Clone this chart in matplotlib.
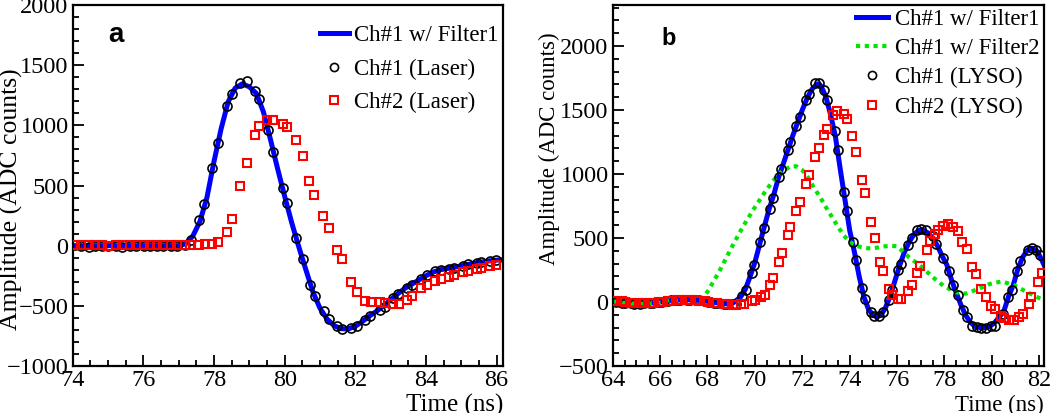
import matplotlib
matplotlib.use("Agg")
import matplotlib.pyplot as plt
from matplotlib.ticker import MultipleLocator

plt.rcParams['font.family'] = ['Liberation Serif', 'DejaVu Serif']
plt.rcParams['axes.unicode_minus'] = True

# ---------------- Panel a data ----------------
a_filter1_t = [74.0, 76.5, 77.0, 77.2, 77.4, 77.6, 77.8, 78.0, 78.2, 78.4, 78.6, 78.8, 79.0, 79.2,
               79.4, 79.6, 79.8, 80.0, 80.2, 80.4, 80.6, 80.8, 81.0, 81.2, 81.4, 81.6, 81.8,
               82.0, 82.2, 82.4, 82.6, 82.8, 83.0, 83.2, 83.4, 83.6, 83.8, 84.0, 84.2, 84.4,
               84.6, 84.8, 85.0, 85.2, 85.4, 85.6, 85.8, 86.0, 86.2]
a_filter1_v = [0, 0, 0, 15, 80, 200, 400, 700, 970, 1195, 1310, 1345, 1320, 1265,
               1110, 880, 640, 410, 190, -10, -200, -385, -520, -610, -665, -690, -692,
               -670, -630, -585, -545, -500, -450, -400, -355, -320, -285, -250, -220, -200,
               -190, -180, -168, -155, -143, -135, -126, -120, -116]

a_ch1_t = [74.06, 74.23, 74.45, 74.62, 74.84, 75.01, 75.23, 75.40, 75.62, 75.79, 76.01, 76.18,
           76.40, 76.57, 76.79, 76.96, 77.18, 77.35, 77.58, 77.73, 77.95, 78.12, 78.36, 78.51,
           78.74, 78.94, 79.16, 79.28, 79.54, 79.68, 79.94, 80.06, 80.31, 80.51, 80.72, 80.86,
           81.10, 81.26, 81.48, 81.61, 81.89, 82.04, 82.26, 82.42, 82.69, 82.83, 83.07, 83.22,
           83.45, 83.60, 83.85, 84.02, 84.26, 84.42, 84.65, 84.78, 85.05, 85.19, 85.43, 85.57,
           85.82, 85.97]
a_ch1_v = [2, -5, -8, -6, -3, 0, -2, -10, -4, 0, -5, -3,
           0, -2, -6, -3, 5, 50, 211, 349, 646, 854, 1160, 1262,
           1354, 1371, 1286, 1217, 962, 779, 482, 358, 67, -112, -327, -418,
           -545, -607, -671, -690, -688, -666, -616, -585, -538, -508, -434, -401,
           -354, -324, -275, -244, -212, -201, -191, -186, -167, -153, -140, -136,
           -125, -122]

a_ch2_t = [74.06, 74.23, 74.45, 74.62, 74.84, 75.01, 75.23, 75.40, 75.62, 75.79, 76.01, 76.18,
           76.40, 76.57, 76.79, 76.96, 77.18, 77.32, 77.58, 77.74, 77.95, 78.12, 78.36, 78.50,
           78.74, 78.93, 79.15, 79.28, 79.51, 79.68, 79.95, 80.06, 80.31, 80.51, 80.70, 80.84,
           81.09, 81.25, 81.48, 81.62, 81.89, 82.04, 82.26, 82.43, 82.70, 82.83, 83.07, 83.24,
           83.45, 83.60, 83.85, 84.02, 84.26, 84.42, 84.65, 84.78, 85.05, 85.19, 85.43, 85.57,
           85.82, 85.97]
a_ch2_v = [5, 3, 6, 4, 2, 0, 4, 6, 3, 2, 5, 4,
           3, 6, 5, 4, 6, 3, 8, 11, 17, 30, 116, 218,
           495, 687, 923, 995, 1046, 1045, 1015, 987, 876, 741, 535, 418,
           246, 146, -36, -108, -305, -386, -460, -472, -472, -473, -482, -482,
           -449, -419, -351, -323, -295, -280, -262, -240, -215, -210, -190, -188,
           -170, -160]

# ---------------- Panel b data ----------------
b_filter1_t = [64.0, 64.5, 65.0, 65.5, 66.0, 66.5, 67.0, 67.5, 68.0, 68.5, 69.0, 69.2, 69.4,
               69.6, 69.8, 70.0, 70.2, 70.4, 70.6, 70.8, 71.0, 71.2, 71.4, 71.6, 71.8, 72.0,
               72.2, 72.4, 72.6, 72.7, 72.8, 73.0, 73.2, 73.4, 73.6, 73.8, 74.0, 74.2, 74.4,
               74.6, 74.8, 75.0, 75.15, 75.3, 75.5, 75.7, 75.9, 76.1, 76.3, 76.5, 76.7, 76.9,
               77.1, 77.3, 77.5, 77.7, 77.9, 78.1, 78.3, 78.5, 78.7, 78.9, 79.1, 79.3, 79.5,
               79.7, 79.9, 80.1, 80.3, 80.5, 80.7, 80.9, 81.1, 81.3, 81.5, 81.7, 81.9, 82.1,
               82.2]
b_filter1_v = [5, -5, -12, -10, 0, 12, 18, 15, 5, -8, -18, 10, 40,
               100, 200, 310, 450, 590, 725, 840, 975, 1080, 1190, 1300, 1400, 1500,
               1590, 1660, 1700, 1705, 1685, 1600, 1460, 1290, 1040, 800, 560, 390, 200,
               40, -60, -105, -115, -105, -50, 40, 160, 280, 385, 465, 525, 558,
               560, 540, 500, 440, 360, 290, 170, 70, -25, -105, -160, -192, -200,
               -200, -192, -165, -120, -75, 40, 130, 260, 350, 405, 420, 400, 330,
               290]

b_filter2_t = [64.0, 64.5, 65.0, 65.5, 66.0, 66.5, 67.0, 67.5, 67.8, 68.0, 68.5, 69.0, 69.5,
               70.0, 70.5, 71.0, 71.5, 71.75, 72.0, 72.25, 72.5, 72.75, 73.0, 73.25, 73.5,
               73.75, 74.0, 74.25, 74.5, 74.75, 75.0, 75.5, 75.75, 76.0, 76.15, 76.5, 77.0,
               77.5, 78.0, 78.5, 78.9, 79.4, 79.9, 80.4, 80.9, 81.4, 81.9, 82.2]
b_filter2_v = [5, -5, -12, -10, 0, 12, 18, 15, 30, 80, 240, 420, 590,
               740, 880, 1000, 1060, 1060, 1030, 970, 890, 820, 740, 665, 590,
               520, 470, 440, 428, 420, 420, 435, 440, 435, 410, 350, 280,
               195, 120, 75, 65, 100, 140, 160, 135, 85, 40, 10]

b_ch1_t = [64.00, 64.13, 64.39, 64.52, 64.78, 64.91, 65.17, 65.30, 65.56, 65.69, 65.95, 66.08,
           66.34, 66.47, 66.73, 66.86, 67.12, 67.25, 67.51, 67.64, 67.90, 68.03, 68.29, 68.42,
           68.68, 68.81, 69.07, 69.20, 69.44, 69.61, 69.86, 69.96, 70.22, 70.37, 70.62, 70.75,
           71.00, 71.12, 71.39, 71.50, 71.75, 71.89, 72.16, 72.30, 72.55, 72.72, 72.91, 73.05,
           73.36, 73.49, 73.75, 73.89, 74.13, 74.27, 74.50, 74.63, 74.88, 75.02, 75.23, 75.40,
           75.66, 75.77, 76.05, 76.15, 76.46, 76.64, 76.83, 77.02, 77.21, 77.52, 77.66, 77.95,
           78.19, 78.36, 78.55, 78.80, 78.93, 79.18, 79.36, 79.56, 79.74, 79.95, 80.12, 80.45,
           80.69, 80.83, 81.05, 81.20, 81.53, 81.69, 81.86, 82.05]
b_ch1_v = [5, 2, -4, -6, -10, -12, -12, -11, -8, -5, 0, 3,
           10, 12, 16, 18, 18, 17, 15, 12, 6, 3, -4, -7,
           -13, -16, -18, -12, 49, 96, 227, 286, 466, 578, 724, 812,
           977, 1042, 1185, 1250, 1375, 1445, 1581, 1628, 1711, 1711, 1659, 1581,
           1336, 1185, 859, 708, 469, 331, 107, 26, -78, -112, -112, -78,
           18, 91, 247, 300, 448, 500, 560, 568, 560, 513, 456, 346,
           245, 130, 52, -65, -117, -188, -195, -200, -200, -188, -188, -91,
           39, 91, 240, 320, 409, 424, 409, 370]

b_ch2_t = [64.00, 64.13, 64.39, 64.52, 64.78, 64.91, 65.17, 65.30, 65.56, 65.69, 65.95, 66.08,
           66.34, 66.47, 66.73, 66.86, 67.12, 67.25, 67.51, 67.64, 67.90, 68.03, 68.29, 68.42,
           68.68, 68.81, 69.07, 69.20, 69.40, 69.54, 69.89, 70.02, 70.24, 70.43, 70.62, 70.75,
           71.00, 71.15, 71.40, 71.50, 71.75, 71.89, 72.16, 72.30, 72.55, 72.70, 72.91, 73.05,
           73.30, 73.47, 73.75, 73.89, 74.11, 74.27, 74.53, 74.64, 74.88, 75.05, 75.30, 75.42,
           75.66, 75.80, 76.05, 76.18, 76.45, 76.61, 76.85, 76.97, 77.25, 77.39, 77.60, 77.74,
           77.95, 78.16, 78.36, 78.55, 78.76, 78.93, 79.18, 79.32, 79.56, 79.74, 79.98, 80.12,
           80.38, 80.52, 80.73, 80.94, 81.15, 81.32, 81.55, 81.65, 81.93, 82.10]
b_ch2_v = [10, 8, 4, 2, -4, -6, -10, -11, -8, -6, 0, 3,
           8, 10, 13, 15, 15, 14, 12, 10, 5, 2, -5, -8,
           -15, -18, -20, -20, -18, -13, 8, 15, 36, 57, 134, 185,
           313, 385, 526, 586, 708, 781, 924, 990, 1133, 1203, 1302, 1354,
           1464, 1490, 1471, 1432, 1294, 1172, 956, 854, 625, 500, 313, 240,
           104, 52, 26, 26, 88, 130, 229, 279, 409, 477, 534, 560,
           591, 607, 586, 552, 469, 411, 273, 216, 104, 39, -31, -57,
           -109, -125, -143, -143, -117, -91, -13, 39, 156, 229]

BLUE = '#0000ff'
RED = '#ff0000'
GREEN = '#00e600'

fig = plt.figure(figsize=(10.5, 4.13), dpi=100)
ax_a = fig.add_axes([72.7 / 1050, 1 - 366 / 413, 430.3 / 1050, 361 / 413])
ax_b = fig.add_axes([612.7 / 1050, 1 - 366 / 413, 431.3 / 1050, 361 / 413])


def style(ax):
    for s in ax.spines.values():
        s.set_linewidth(1.6)
    ax.tick_params(which='both', direction='in', top=False, right=False,
                   labelsize=17.5, width=1.3, pad=3)
    ax.tick_params(which='major', length=8)
    ax.tick_params(which='minor', length=4)


# Panel a
ax_a.plot(a_filter1_t, a_filter1_v, color=BLUE, lw=3.6, zorder=2, label='Ch#1 w/ Filter1')
ax_a.plot(a_ch1_t, a_ch1_v, ls='none', marker='o', ms=6.5, mfc='none', mec='black', mew=1.2,
          zorder=3, label='Ch#1 (Laser)')
ax_a.plot(a_ch2_t, a_ch2_v, ls='none', marker='s', ms=6.0, mfc='none', mec=RED, mew=1.5,
          zorder=4, label='Ch#2 (Laser)')
ax_a.set_xlim(74, 86.18)
ax_a.set_ylim(-1000, 2000)
ax_a.xaxis.set_major_locator(MultipleLocator(2))
ax_a.xaxis.set_minor_locator(MultipleLocator(0.5))
ax_a.yaxis.set_major_locator(MultipleLocator(500))
ax_a.yaxis.set_minor_locator(MultipleLocator(100))
style(ax_a)
ax_a.set_xlabel('Time (ns)', fontsize=18, loc='right', labelpad=2)
ax_a.text(0.082, 0.8975, 'a', transform=ax_a.transAxes, fontsize=20, fontweight='bold',
          family='Liberation Sans', va='baseline', ha='left')
leg_a = ax_a.legend(loc='upper right', bbox_to_anchor=(0.99, 0.945), frameon=False,
                    fontsize=16.5, handlelength=1.25, handletextpad=0.25, labelspacing=0.55,
                    borderpad=0, borderaxespad=0, markerscale=0.9)
fig.text(11 / 1050, 1 - 199 / 413, 'Amplitude (ADC counts)', rotation=90, ha='center',
         va='center', fontsize=18.5)

# Panel b
ax_b.plot(b_filter1_t, b_filter1_v, color=BLUE, lw=3.6, zorder=2, label='Ch#1 w/ Filter1')
ax_b.plot(b_filter2_t, b_filter2_v, color=GREEN, lw=3.0, ls=(0, (1, 1.1)), zorder=2.5,
          label='Ch#1 w/ Filter2')
ax_b.plot(b_ch1_t, b_ch1_v, ls='none', marker='o', ms=6.5, mfc='none', mec='black', mew=1.2,
          zorder=3, label='Ch#1 (LYSO)')
ax_b.plot(b_ch2_t, b_ch2_v, ls='none', marker='s', ms=6.0, mfc='none', mec=RED, mew=1.5,
          zorder=4, label='Ch#2 (LYSO)')
ax_b.set_xlim(64, 82.2)
ax_b.set_ylim(-500, 2320)
ax_b.xaxis.set_major_locator(MultipleLocator(2))
ax_b.xaxis.set_minor_locator(MultipleLocator(0.5))
ax_b.yaxis.set_major_locator(MultipleLocator(500))
ax_b.yaxis.set_minor_locator(MultipleLocator(100))
style(ax_b)
ax_b.set_xlabel('Time (ns)', fontsize=16.5, loc='right', labelpad=3)
ax_b.text(0.114, 0.889, 'b', transform=ax_b.transAxes, fontsize=17, fontweight='bold',
          family='Liberation Sans', va='baseline', ha='left')
leg_b = ax_b.legend(loc='upper right', bbox_to_anchor=(0.99, 0.99), frameon=False,
                    fontsize=16.5, handlelength=1.4, handletextpad=0.3, labelspacing=0.36,
                    borderpad=0, borderaxespad=0, markerscale=0.9)
fig.text(549 / 1050, 1 - 149 / 413, 'Amplitude (ADC counts)', rotation=90, ha='center',
         va='center', fontsize=16.5)

fig.savefig('out.png', dpi=100)
